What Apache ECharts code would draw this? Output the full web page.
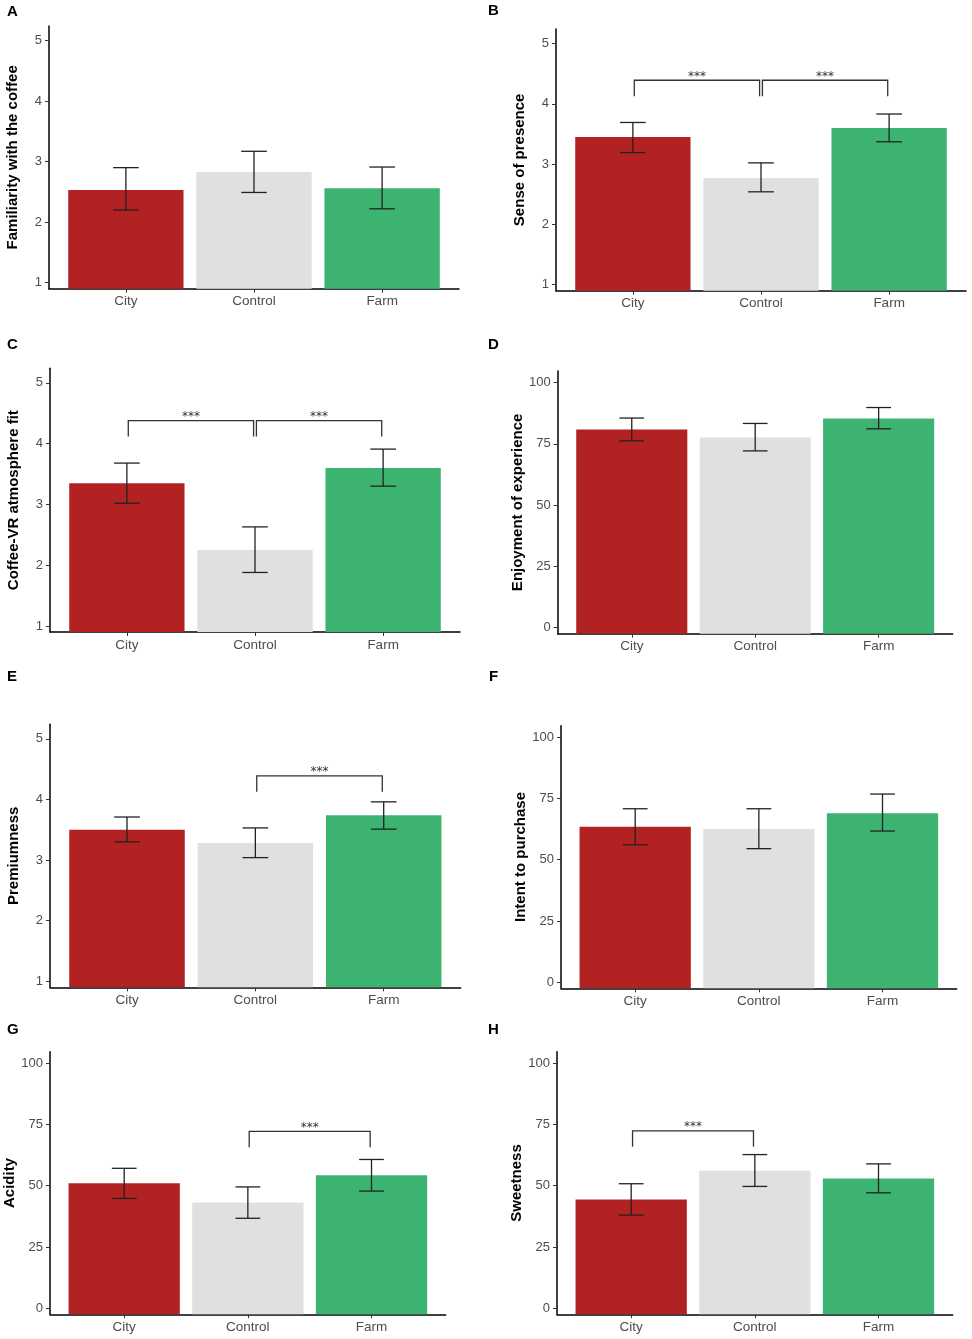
<!DOCTYPE html>
<html>
<head>
<meta charset="utf-8">
<title>Coffee VR ratings</title>
<script src="https://cdn.jsdelivr.net/npm/echarts@6/dist/echarts.min.js"></script>
<style>
  html, body { margin: 0; padding: 0; background: #fff; }
  #main { width: 972px; height: 1339px; }
</style>
</head>
<body>
<div id="main"></div>
<script>
// groups on the x axis of every panel
var groups = ['City', 'Control', 'Farm'];
var barColors = ['#B22222', '#E0E0E0', '#3CB371'];

var panelLetters = ['A', 'B', 'C', 'D', 'E', 'F', 'G', 'H'];
var yTitles = [
  'Familiarity with the coffee', 'Sense of presence',
  'Coffee-VR atmosphere fit', 'Enjoyment of experience',
  'Premiumness', 'Intent to purchase',
  'Acidity', 'Sweetness'
];

// tick labels
var likertTicks = [1, 2, 3, 4, 5];
var scoreTicks = [0, 25, 50, 75, 100];

// means and error bar ends (City, Control, Farm)
var familiarityMean = [2.53, 2.83, 2.56];
var familiarityLow  = [2.20, 2.49, 2.22];
var familiarityHigh = [2.90, 3.17, 2.91];

var presenceMean = [3.45, 2.77, 3.60];
var presenceLow  = [3.19, 2.54, 3.37];
var presenceHigh = [3.69, 3.02, 3.83];

var atmosphereMean = [3.35, 2.25, 3.60];
var atmosphereLow  = [3.02, 1.88, 3.30];
var atmosphereHigh = [3.68, 2.63, 3.91];

var enjoymentMean = [80.8, 77.6, 85.3];
var enjoymentLow  = [76.2, 72.1, 81.1];
var enjoymentHigh = [85.5, 83.3, 89.8];

var premiumMean = [3.50, 3.28, 3.74];
var premiumLow  = [3.30, 3.04, 3.51];
var premiumHigh = [3.71, 3.53, 3.96];

var intentMean = [63.4, 62.5, 69.0];
var intentLow  = [56.1, 54.5, 61.7];
var intentHigh = [70.8, 70.8, 76.8];

var acidityMean = [51.0, 43.1, 54.3];
var acidityLow  = [44.8, 36.7, 47.8];
var acidityHigh = [57.1, 49.5, 60.7];

var sweetMean = [44.4, 56.1, 52.9];
var sweetLow  = [38.0, 49.7, 47.1];
var sweetHigh = [50.8, 62.7, 58.9];

// significance brackets: [from group, to group, height]
var presenceBrackets   = [[0, 1, 4.39], [1, 2, 4.39]];
var atmosphereBrackets = [[0, 1, 4.38], [1, 2, 4.38]];
var premiumBrackets    = [[1, 2, 4.39]];
var acidityBrackets    = [[1, 2, 72.2]];
var sweetBrackets      = [[0, 1, 72.4]];

var panelMeans = [familiarityMean, presenceMean, atmosphereMean, enjoymentMean,
                  premiumMean, intentMean, acidityMean, sweetMean];
var panelLows  = [familiarityLow, presenceLow, atmosphereLow, enjoymentLow,
                  premiumLow, intentLow, acidityLow, sweetLow];
var panelHighs = [familiarityHigh, presenceHigh, atmosphereHigh, enjoymentHigh,
                  premiumHigh, intentHigh, acidityHigh, sweetHigh];
var panelBrackets = [[], presenceBrackets, atmosphereBrackets, [],
                     premiumBrackets, [], acidityBrackets, sweetBrackets];
var panelIsScore = [false, false, false, true, false, true, true, true];

// layout: plot box of each panel [left, top, right, bottom] in px
var boxes = [
  [49, 26, 459, 288.7],     [556, 29, 966, 290.7],
  [50, 368.3, 460, 632],    [557.7, 371, 952.7, 633.7],
  [50, 724.3, 460.7, 987.3],[561, 725.7, 956.7, 988.3],
  [50, 1051.7, 445.7, 1314.3], [557, 1051.7, 952.7, 1314.3]
];
var letterPos = [[7, 12], [488, 11], [7, 345.7], [488, 345.7],
                 [7, 677.7], [489, 677.7], [7, 1030.7], [488, 1030.7]];

var FONT = 'Liberation Sans, Arial, sans-serif';
var BAR_HALF = 0.45, CAP_HALF = 0.1, TIP_PX = 16;

function renderBar(params, api) {
  var x = api.value(0);
  var p1 = api.coord([x - BAR_HALF, api.value(1)]);
  var p2 = api.coord([x + BAR_HALF, api.value(1)]);
  var cs = params.coordSys;
  var bottom = cs.y + cs.height;
  return {
    type: 'rect',
    shape: { x: p1[0], y: p1[1], width: p2[0] - p1[0], height: bottom - p1[1] },
    style: { fill: barColors[params.dataIndex] }
  };
}

function renderErr(params, api) {
  var x = api.value(0);
  var lo = api.coord([x, api.value(1)]);
  var hi = api.coord([x, api.value(2)]);
  var lL = api.coord([x - CAP_HALF, api.value(1)]);
  var lR = api.coord([x + CAP_HALF, api.value(1)]);
  var hL = api.coord([x - CAP_HALF, api.value(2)]);
  var hR = api.coord([x + CAP_HALF, api.value(2)]);
  var st = { stroke: '#222', lineWidth: 1.3 };
  return {
    type: 'group',
    children: [
      { type: 'line', shape: { x1: lo[0], y1: lo[1], x2: hi[0], y2: hi[1] }, style: st },
      { type: 'line', shape: { x1: lL[0], y1: lL[1], x2: lR[0], y2: lR[1] }, style: st },
      { type: 'line', shape: { x1: hL[0], y1: hL[1], x2: hR[0], y2: hR[1] }, style: st }
    ]
  };
}

function renderBracket(params, api) {
  var a = api.value(0) + 0.011, b = api.value(1) - 0.011, y = api.value(2);
  var pa = api.coord([a, y]);
  var pb = api.coord([b, y]);
  return {
    type: 'group',
    children: [
      {
        type: 'polyline',
        shape: { points: [[pa[0], pa[1] + TIP_PX], pa, pb, [pb[0], pb[1] + TIP_PX]] },
        style: { stroke: '#333', lineWidth: 1.3, fill: null }
      },
      {
        type: 'text',
        x: (pa[0] + pb[0]) / 2, y: pa[1] - 3.5,
        style: {
          text: '***', fill: '#333', font: '12px DejaVu Sans, sans-serif',
          align: 'center', verticalAlign: 'middle'
        }
      }
    ]
  };
}

var grids = [], xAxes = [], yAxes = [], series = [], graphics = [];

for (var i = 0; i < 8; i++) {
  var b = boxes[i];
  var ticks = panelIsScore[i] ? scoreTicks : likertTicks;
  grids.push({ left: b[0], top: b[1], width: b[2] - b[0], height: b[3] - b[1] });

  xAxes.push({
    type: 'value', gridIndex: i, min: 0.4, max: 3.6,
    splitLine: { show: false },
    axisLine: { show: true, onZero: false, lineStyle: { color: '#000', width: 1.5 } },
    axisTick: { show: true, customValues: [1, 2, 3], length: 4, lineStyle: { color: '#333' } },
    axisLabel: {
      customValues: [1, 2, 3], margin: 6, color: '#4d4d4d', fontSize: 13.5, fontFamily: FONT,
      formatter: function (v) { return groups[Math.round(v) - 1]; }
    }
  });

  yAxes.push({
    type: 'value', gridIndex: i,
    min: panelIsScore[i] ? -2.5 : 0.9,
    max: panelIsScore[i] ? 104.7 : 5.24,
    splitLine: { show: false },
    axisLine: { show: true, onZero: false, lineStyle: { color: '#000', width: 1.5 } },
    axisTick: { show: true, customValues: ticks, length: 4, lineStyle: { color: '#333' } },
    axisLabel: { customValues: ticks, margin: 7, color: '#4d4d4d', fontSize: 13, fontFamily: FONT },
    name: yTitles[i], nameLocation: 'middle', nameRotate: 90, nameGap: 29,
    nameTextStyle: { color: '#000', fontSize: 15, fontWeight: 'bold', fontFamily: FONT }
  });

  var barData = [], errData = [];
  for (var g = 0; g < groups.length; g++) {
    barData.push([g + 1, panelMeans[i][g]]);
    errData.push([g + 1, panelLows[i][g], panelHighs[i][g]]);
  }
  series.push({
    type: 'custom', xAxisIndex: i, yAxisIndex: i, renderItem: renderBar,
    data: barData, encode: { x: 0, y: 1 }, silent: true
  });
  series.push({
    type: 'custom', xAxisIndex: i, yAxisIndex: i, renderItem: renderErr,
    data: errData, encode: { x: 0, y: [1, 2] }, silent: true, z: 3
  });
  if (panelBrackets[i].length) {
    var brData = panelBrackets[i].map(function (r) { return [r[0] + 1, r[1] + 1, r[2]]; });
    series.push({
      type: 'custom', xAxisIndex: i, yAxisIndex: i, renderItem: renderBracket,
      data: brData, encode: { x: [0, 1], y: 2 }, silent: true, z: 4, clip: false
    });
  }

  graphics.push({
    type: 'text', left: letterPos[i][0], top: letterPos[i][1] - 8,
    style: { text: panelLetters[i], fill: '#000', font: 'bold 15px ' + FONT }
  });
}

var myChart = echarts.init(document.getElementById('main'), null, { renderer: 'canvas' });
myChart.setOption({
  animation: false,
  backgroundColor: '#fff',
  grid: grids,
  xAxis: xAxes,
  yAxis: yAxes,
  series: series,
  graphic: graphics
});
</script>
</body>
</html>
